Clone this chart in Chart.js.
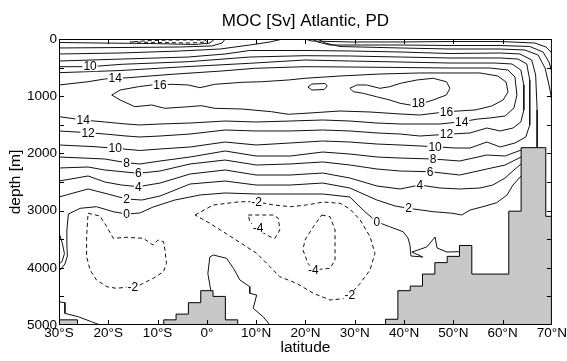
<!DOCTYPE html>
<html>
<head>
<meta charset="utf-8">
<title>MOC [Sv] Atlantic, PD</title>
<script src="https://cdn.jsdelivr.net/npm/chart.js@4.4.1/dist/chart.umd.min.js"></script>
<style>
  html, body { margin: 0; padding: 0; background: #fff; }
</style>
</head>
<body>
<canvas id="moc" width="567" height="361"></canvas>
<script>
// MOC [Sv] Atlantic, PD - contour lines as [lat, depth] pairs

const FONT = '"Liberation Sans", Arial, Helvetica, sans-serif';
const titleText = 'MOC [Sv] Atlantic, PD';

// Axis ticks
const latTicks = [-30, -20, -10, 0, 10, 20, 30, 40, 50, 60, 70];
const depthTicks = [0, 1000, 2000, 3000, 4000, 5000];
const depthMinorTicks = [500, 1500, 2500, 3500, 4500];

// Bathymetry (zonal max depth), each depth holds until the next latitude
const bathLat = [-30, -26.25, -8.75, -6.25, -3.75, -1.25, 1.25, 3.75, 6.25, 36.25, 38.75, 41.25, 43.75, 46.25, 48.75, 51.25, 53.75, 61.25, 63.75, 68.75, 70];
const bathDepth = [4910, 5000, 4910, 4810, 4610, 4400, 4500, 4910, 5000, 4900, 4400, 4320, 4110, 3910, 3800, 3610, 4110, 3010, 1900, 3100, 3100];

// Positive contours (solid)
const c18a = [[29.0,862],[30.4,804],[32.4,804],[35.1,862],[37.1,834],[39.2,776],[42.6,717],[45.9,687],[48.6,747],[49.3,862],[48.6,979],[45.9,1066],[43.8,1124],[41.2,1154],[39.2,1124],[37.1,1066],[34.4,1009],[31.7,949],[29.7,921],[29.0,862]];
const c18b = [[20.5,839],[21.3,787],[24.0,778],[24.4,822],[23.8,883],[21.3,892],[20.5,839]];
const c16 = [[-19.3,979],[-17.6,892],[-13.9,834],[-11.2,804],[-9.5,804],[-7.1,792],[-3.8,804],[-1.4,851],[1.6,792],[7.1,757],[11.1,747],[16.5,717],[19.9,687],[27.0,647],[35.1,612],[43.2,594],[49.3,594],[55.4,594],[59.0,647],[60.7,752],[61.1,927],[60.1,1066],[57.8,1171],[54.4,1241],[48.7,1271],[43.2,1329],[39.2,1311],[33.1,1276],[27.0,1259],[19.9,1299],[16.5,1316],[13.1,1271],[7.1,1224],[1.6,1212],[-1.1,1166],[-3.8,1184],[-8.5,1212],[-11.2,1154],[-14.6,1184],[-17.6,1066],[-19.3,979]];
const c14 = [[-30,804],[-24.1,747],[-20.7,699],[-16.0,677],[-7.1,617],[3.1,559],[9.8,512],[19.9,484],[29.0,490],[39.2,498],[49.3,507],[57.4,507],[61.1,542],[62.5,664],[62.9,979],[62.3,1206],[60.5,1346],[57.4,1381],[55.0,1399],[51.7,1446],[47.3,1486],[39.2,1486],[34.5,1469],[29.0,1434],[23.5,1416],[16.9,1434],[10.0,1451],[3.7,1434],[-3.4,1469],[-9.5,1486],[-13.6,1503],[-16.4,1486],[-20.7,1451],[-25.1,1416],[-30,1358]];
const c12 = [[-30,589],[-17.6,551],[-5.5,490],[8.7,425],[19.9,367],[29.0,385],[39.2,402],[49.3,420],[58.4,420],[61.9,437],[63.7,542],[64.3,804],[64.3,1241],[63.7,1451],[62.1,1556],[59.5,1608],[56.8,1556],[53.4,1643],[48.7,1666],[43.2,1696],[39.2,1661],[34.5,1643],[29.0,1608],[23.5,1591],[16.9,1608],[10.0,1608],[3.7,1591],[-3.4,1661],[-9.5,1696],[-13.6,1713],[-16.4,1696],[-20.7,1661],[-24.1,1638],[-30,1608]];
const c10 = [[-30,484],[-23.7,484],[-17.2,442],[-3.8,397],[8.7,315],[19.9,292],[29.0,297],[39.2,315],[49.3,332],[59.5,332],[63.1,350],[64.9,437],[65.5,717],[65.5,1503],[64.7,1713],[62.5,1818],[59.5,1888],[56.8,1801],[53.4,1906],[50.3,1906],[46.3,1883],[39.2,1853],[34.5,1836],[29.0,1801],[23.5,1783],[16.9,1818],[10.0,1853],[3.7,1801],[-3.4,1888],[-9.5,1923],[-13.6,1949],[-18.6,1911],[-22.7,1883],[-30,1853]];
const c8Upper = [[-30,385],[-17.2,350],[-3.8,315],[3.7,262],[8.7,201],[19.9,201],[29.0,210],[39.2,227],[49.3,254],[59.5,245],[63.5,262],[65.9,367],[66.7,629],[67.0,1241],[67.0,1900]];
const c8Lower = [[-30,2063],[-25.1,2081],[-20.7,2098],[-16.3,2163],[-13.6,2185],[-9.5,2133],[-3.4,2063],[3.7,1958],[10.0,2046],[16.9,2046],[23.5,1976],[29.0,2011],[34.5,2063],[39.2,2081],[45.9,2098],[51.3,2133],[56.8,2028],[60.5,2046],[63.75,1941]];
const c6South = [[-30,262],[-17.6,245],[-5.5,210],[2.7,175],[8.7,105],[12.8,52],[15.4,0]];
const c6North = [[22.5,0],[24.0,70],[27.0,131],[39.2,157],[49.3,175],[59.5,175],[64.5,192],[67.2,280],[68.6,507],[69.4,804],[70,1066]];
const c6Lower = [[-30,2255],[-24.1,2238],[-20.7,2290],[-13.9,2348],[-9.5,2308],[-3.4,2185],[3.7,2116],[10.0,2203],[16.9,2185],[23.5,2150],[29.0,2203],[34.5,2273],[39.2,2308],[45.3,2320],[51.3,2378],[56.8,2273],[60.5,2203],[63.75,2063]];
const c4South = [[-30,157],[-17.6,149],[-5.5,140],[1.0,122],[3.1,70],[3.7,0]];
const c4North = [[21.3,0],[22.5,52],[25.0,105],[31.1,105],[39.2,105],[49.3,114],[59.5,114],[65.5,131],[68.2,227],[69.4,402],[70,577]];
const c4Lower = [[-30,2483],[-24.1,2395],[-20.7,2500],[-17.3,2553],[-13.9,2582],[-9.5,2518],[-3.4,2360],[3.7,2290],[10.0,2378],[16.9,2378],[23.5,2343],[29.0,2430],[34.5,2570],[39.2,2622],[43.2,2553],[47.3,2605],[51.3,2622],[55.4,2605],[58.0,2553],[60.5,2430],[62.3,2290],[63.75,2185]];
const c2South = [[-30,61],[-21.7,70],[-11.5,79],[-2.4,96],[0.6,70],[1.6,0]];
const c2North = [[19.9,0],[21.3,35],[29.0,52],[39.2,52],[49.3,44],[59.5,44],[66.5,70],[68.8,140],[70,245]];
const c2Lower = [[-30,2762],[-24.1,2622],[-20.1,2710],[-16.3,2797],[-13.2,2815],[-9.5,2745],[-3.4,2535],[3.7,2483],[10.0,2553],[16.9,2553],[23.5,2518],[29.0,2605],[34.5,2815],[38.2,2920],[40.9,2960],[45.9,3019],[49.9,3047],[51.7,3077],[53.4,2990],[56.0,2932],[58.8,2862],[60.9,2727],[62.1,2553],[63.75,2395]];
const c0Main = [[-30,4056],[-29.6,4021],[-28.8,3933],[-28.3,3794],[-28.4,3600],[-28.4,3339],[-28.1,3060],[-25.7,2960],[-22.4,2932],[-19.0,3019],[-16.3,3060],[-13.6,3042],[-10.9,2937],[-6.5,2815],[-1.4,2727],[3.7,2692],[10.1,2710],[16.9,2710],[23.5,2710],[29.0,2762],[31.7,2990],[34.4,3194],[37.1,3282],[39.8,3369],[40.8,3479],[41.2,3602],[41.4,3794],[43.8,3811],[41.6,3724],[44.6,3636],[46.3,3462],[46.7,3654],[48.7,3724],[51.25,3719]];
const c0Lens = [[-30,3386],[-29.3,3579],[-28.9,3754],[-29.4,3894],[-30,3933]];
const c0SW = [[-30,4593],[-28.8,4610],[-28.8,4796],[-26.1,4855],[-23.4,4943],[-21.7,5000]];
const c0Eq = [[0.8,4400],[0.2,4100],[0.6,3811],[1.3,3776],[4.0,3834],[5.4,4009],[6.7,4213],[8.7,4331],[8.7,4446],[10.1,4476],[9.4,4708],[11.4,4855],[12.8,5000]];

// Negative contours (dashed)
const m2Big = [[-2.4,3077],[1.3,2902],[6.7,2845],[10.1,2845],[13.5,2902],[16.9,2932],[20.2,2902],[23.6,2850],[27.0,2872],[29.0,2972],[31.1,3164],[33.1,3456],[34.1,3747],[33.1,4038],[31.1,4271],[29.0,4476],[28.4,4533],[25.0,4563],[21.6,4446],[18.2,4271],[14.8,4156],[12.8,3980],[10.1,3747],[5.4,3484],[0.6,3222],[-2.4,3077]];
const m2SW = [[-24.1,3047],[-21.7,3094],[-20.3,3282],[-19.0,3484],[-16.3,3467],[-12.9,3484],[-10.9,3602],[-9.9,3514],[-8.8,3544],[-8.5,3689],[-8.2,3921],[-8.8,4068],[-10.9,4184],[-13.6,4301],[-15.6,4331],[-18.3,4359],[-20.3,4331],[-22.4,4213],[-23.7,4038],[-24.4,3806],[-24.4,3456],[-24.1,3047]];
const m4a = [[8.4,3077],[13.5,3077],[14.5,3135],[14.8,3339],[13.8,3484],[12.8,3456],[10.4,3339],[8.7,3194],[8.4,3077]];
const m4b = [[23.3,3077],[25.0,3107],[26.0,3339],[26.0,3864],[25.0,4009],[22.9,4026],[21.6,4038],[20.5,3921],[19.5,3689],[19.9,3514],[21.6,3282],[23.3,3077]];
const m2Surf = [[-15.6,52],[-9.5,61],[-3.4,70],[0,52],[-0.4,17],[-5.5,17],[-11.5,26],[-15.6,52]];

// Inline contour labels [text, lat, depth]
const contourLabels = [
    ['10', -23.7, 484], ['14', -18.6, 687], ['16', -9.5, 804],
    ['14', -25.1, 1416], ['12', -24.1, 1638], ['10', -18.6, 1911], ['8', -16.3, 2163],
    ['6', -13.9, 2348], ['4', -13.9, 2582], ['2', -16.3, 2797], ['0', -16.3, 3060],
    ['18', 42.9, 1124], ['16', 48.6, 1271], ['14', 51.7, 1446], ['12', 48.6, 1666],
    ['10', 46.3, 1883], ['8', 45.9, 2098], ['6', 45.3, 2320], ['4', 43.2, 2553],
    ['2', 40.9, 2960], ['0', 34.5, 3194],
    ['-2', 10.1, 2850], ['-4', 10.4, 3309], ['-4', 21.6, 4038], ['-2', 29.0, 4476], ['-2', -15.0, 4331]
];

const solidLines = [c18a, c18b, c16, c14, c12, c10, c8Upper, c8Lower, c6South, c6North, c6Lower,
    c4South, c4North, c4Lower, c2South, c2North, c2Lower, c0Main, c0Lens, c0SW, c0Eq];
const dashedLines = [m2Big, m2SW, m4a, m4b, m2Surf];

function toXY(pts) {
    return pts.map(p => ({ x: p[0], y: p[1] }));
}

function contourSet(pts, dash) {
    return {
        data: toXY(pts),
        showLine: true,
        borderColor: '#111',
        borderWidth: 1,
        borderDash: dash,
        pointRadius: 0,
        fill: false,
        tension: 0,
        order: 1
    };
}

function fmtLat(v) {
    if (v < 0) return (-v) + '°S';
    if (v > 0) return v + '°N';
    return '0°';
}

// title, labels, box and inward ticks
const frame = {
    id: 'frame',
    afterDatasetsDraw(chart) {
        const { ctx, scales: { x, y } } = chart;
        ctx.save();
        ctx.font = '12px ' + FONT;
        ctx.textAlign = 'center';
        ctx.textBaseline = 'middle';
        contourLabels.forEach(([t, lat, d]) => {
            const px = x.getPixelForValue(lat);
            const py = y.getPixelForValue(d);
            const w = ctx.measureText(t).width;
            ctx.fillStyle = '#fff';
            ctx.fillRect(px - w / 2 - 1, py - 4.5, w + 2, 9);
            ctx.fillStyle = '#000';
            ctx.fillText(t, px, py + 0.5);
        });
        ctx.restore();
    },
    afterDraw(chart) {
        const { ctx, chartArea: a, scales: { x, y } } = chart;
        ctx.save();
        ctx.strokeStyle = '#000';
        ctx.lineWidth = 1;
        ctx.strokeRect(a.left + 0.5, a.top + 0.5, a.right - a.left - 1, a.bottom - a.top - 1);
        ctx.beginPath();
        latTicks.slice(1, -1).forEach(v => {
            const px = Math.round(x.getPixelForValue(v)) + 0.5;
            ctx.moveTo(px, a.bottom); ctx.lineTo(px, a.bottom - 5);
            ctx.moveTo(px, a.top); ctx.lineTo(px, a.top + 5);
        });
        depthTicks.slice(1, -1).concat(depthMinorTicks).forEach(v => {
            const py = Math.round(y.getPixelForValue(v)) + 0.5;
            ctx.moveTo(a.left, py); ctx.lineTo(a.left + 5, py);
            ctx.moveTo(a.right, py); ctx.lineTo(a.right - 5, py);
        });
        ctx.stroke();

        ctx.fillStyle = '#000';
        ctx.font = '17px ' + FONT;
        ctx.textAlign = 'center';
        ctx.textBaseline = 'middle';
        ctx.fillText(titleText, (a.left + a.right) / 2, 21.5);
        ctx.restore();
    }
};

const datasets = [{
    data: bathLat.map((lat, i) => ({ x: lat, y: bathDepth[i] })),
    showLine: true,
    stepped: true,
    borderColor: '#000',
    borderWidth: 1,
    backgroundColor: '#c8c8c8',
    fill: { value: 5000 },
    pointRadius: 0,
    order: 0
}].concat(
    solidLines.map(p => contourSet(p, [])),
    dashedLines.map(p => contourSet(p, [4, 3]))
);

new Chart(document.getElementById('moc'), {
    type: 'scatter',
    data: { datasets: datasets },
    options: {
        responsive: false,
        animation: false,
        events: [],
        layout: { padding: { left: 0, right: 15, top: 39, bottom: 0 } },
        plugins: {
            legend: { display: false },
            tooltip: { enabled: false }
        },
        scales: {
            x: {
                type: 'linear',
                min: -30,
                max: 70,
                afterBuildTicks: s => { s.ticks = latTicks.map(v => ({ value: v })); },
                ticks: {
                    callback: fmtLat,
                    color: '#000',
                    font: { family: FONT, size: 13.5 },
                    padding: 0,
                    maxRotation: 0,
                    autoSkip: false
                },
                grid: { display: false, drawTicks: false },
                border: { display: false },
                title: {
                    display: true,
                    text: 'latitude',
                    color: '#000',
                    font: { family: FONT, size: 15.5 },
                    padding: { top: 0, bottom: 4 }
                },
                afterFit: s => { s.height = 36; }
            },
            y: {
                type: 'linear',
                min: 0,
                max: 5000,
                reverse: true,
                afterBuildTicks: s => { s.ticks = depthTicks.map(v => ({ value: v })); },
                ticks: {
                    callback: v => String(v),
                    color: '#000',
                    font: { family: FONT, size: 13.5 },
                    padding: 2
                },
                grid: { display: false, drawTicks: false },
                border: { display: false },
                title: {
                    display: true,
                    text: 'depth [m]',
                    color: '#000',
                    font: { family: FONT, size: 15.5 },
                    padding: { top: 6, bottom: 0 }
                },
                afterFit: s => { s.width = 59; }
            }
        }
    },
    plugins: [frame]
});
</script>
</body>
</html>
